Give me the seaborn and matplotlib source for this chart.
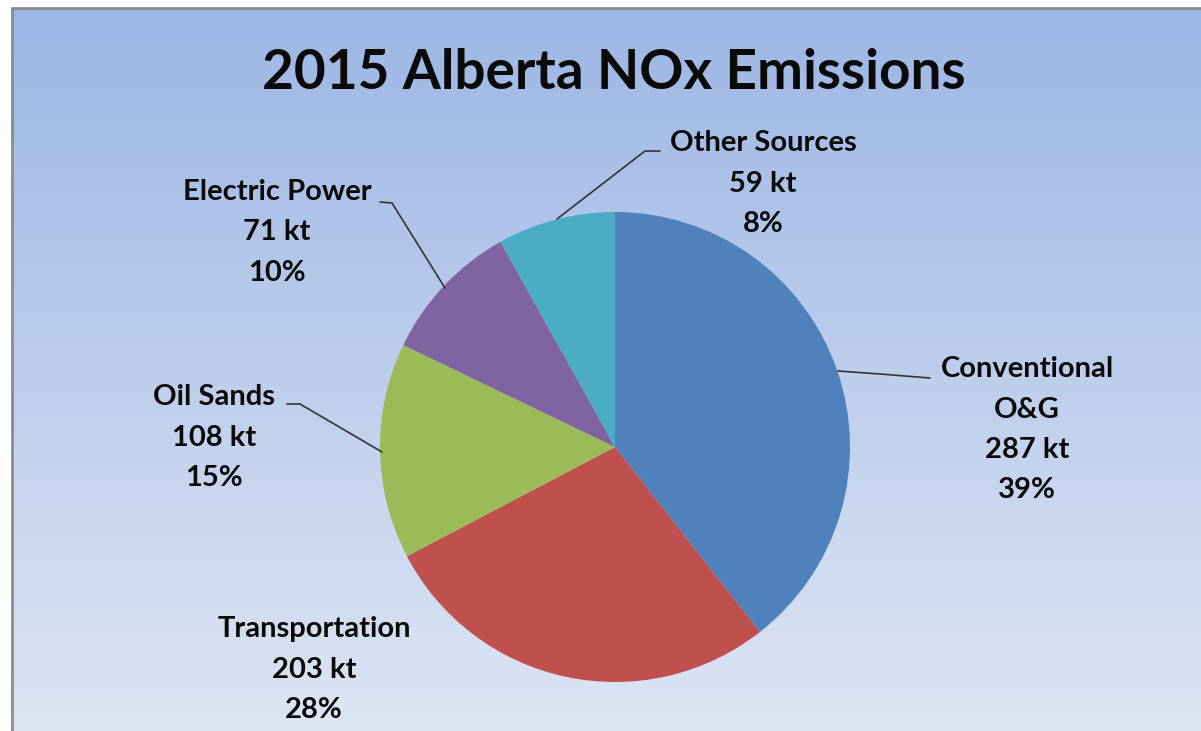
import numpy as np
import seaborn as sns
import matplotlib.pyplot as plt
from matplotlib.colors import LinearSegmentedColormap

# ---- data ----
sources = ["Conventional\nO&G", "Transportation", "Oil Sands", "Electric Power", "Other Sources"]
emissions_kt = [287, 203, 108, 71, 59]
slice_colors = ["#4F81BD", "#C0504D", "#9BBB59", "#8064A2", "#4BACC6"]
title = "2015 Alberta NOx Emissions"

# label block centres (pixel coords, y down) and leader lines
label_pos = [(1027, 369), (314, 629), (214, 397), (277, 192), (763, 143)]
leaders = [
    [(838, 371), (880, 374), (930, 378)],
    None,
    [(382, 452), (300, 404), (287, 404)],
    [(445, 288), (392, 203), (380, 202)],
    [(557, 219), (645, 151), (660, 151)],
]
line_step = 40.5

sns.set_theme(style="white")
plt.rcParams['font.family'] = ['Lato', 'DejaVu Sans']

W, H = 1201, 731
fig = plt.figure(figsize=(W / 100, H / 100), dpi=100)
ax = fig.add_axes([0, 0, 1, 1])

# gradient background
bg = LinearSegmentedColormap.from_list("bg", ["#9CB6E4", "#DDE5F3"])
grad = np.linspace(0, 1, 256).reshape(-1, 1)
ax.imshow(grad, cmap=bg, extent=(12, W, H, 8), aspect='auto', zorder=0)
ax.plot([12, 12], [H, 8], color="#8C8C8C", lw=2, zorder=1)
ax.plot([12, W], [8, 8], color="#8C8C8C", lw=2, zorder=1)

# pie (inverted y axis -> start at -90 going ccw looks clockwise)
ax.pie(emissions_kt, colors=slice_colors, startangle=-90, counterclock=True,
       center=(615, 447), radius=235, wedgeprops=dict(linewidth=0), frame=True)

total = sum(emissions_kt)
for name, v, (x, y), ld in zip(sources, emissions_kt, label_pos, leaders):
    lines = name.split("\n") + [f"{v} kt", f"{round(100 * v / total)}%"]
    for i, s in enumerate(lines):
        ax.text(x, y + i * line_step, s, ha="center", va="center",
                fontsize=21, fontweight="bold", color="#0a0a0a", zorder=3)
    if ld:
        xs, ys = zip(*ld)
        ax.plot(xs, ys, color="#333333", lw=1.2, zorder=2)

ax.text(614, 73, title, ha="center", va="center", fontsize=39.5,
        fontweight="bold", color="#0a0a0a", zorder=3)

ax.set_xlim(0, W)
ax.set_ylim(H, 0)
ax.set_aspect('auto')
ax.axis('off')

fig.savefig("out.png", dpi=100, facecolor="white")
